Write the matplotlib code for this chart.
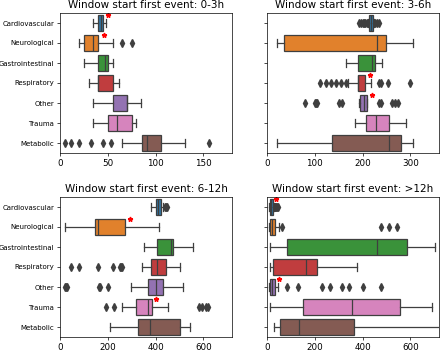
import matplotlib.pyplot as plt

# categorias (de arriba a abajo)
categories = ["Cardiovascular", "Neurological", "Gastrointestinal", "Respiratory",
              "Other", "Trauma", "Metabolic"]
colors = ['#3274a1', '#e1812c', '#3a923a', '#c03d3e', '#9372b2', '#d684bd', '#845b53']
windows = ["0-3h", "3-6h", "6-12h", ">12h"]
xmax = [180, 360, 720, 720]

# ventana 0-3h
lo_0_3 = [35, 20, 25, 30, 35, 35, 65]
q1_0_3 = [40, 25, 40, 40, 55, 50, 86]
med_0_3 = [43, 35, 47, 40, 70, 60, 91]
q3_0_3 = [45, 40, 50, 55, 70, 75, 106]
hi_0_3 = [48, 55, 55, 62, 85, 80, 131]
fl_0_3 = [[], [65, 75], [], [], [], [], [5, 12, 20, 32, 45, 53, 156]]
star_cat_0_3 = [0, 1]
star_x_0_3 = [50, 46]

# ventana 3-6h
lo_3_6 = [212, 20, 165, 170, 193, 185, 20]
q1_3_6 = [214, 35, 190, 190, 194, 207, 137]
med_3_6 = [218, 230, 220, 190, 202, 228, 255]
q3_3_6 = [221, 250, 226, 205, 209, 255, 280]
hi_3_6 = [224, 305, 240, 218, 210, 290, 305]
fl_3_6 = [[193, 197, 200, 203, 206, 209, 227, 230, 234], [], [],
          [110, 123, 134, 144, 155, 165, 235, 239, 254, 300],
          [79, 101, 103, 105, 150, 156, 235, 238, 262, 268, 274], [], []]
star_cat_3_6 = [3, 4]
star_x_3_6 = [215, 219]

# ventana 6-12h
lo_6_12 = [380, 20, 350, 345, 296, 258, 209]
q1_6_12 = [400, 145, 405, 380, 368, 320, 328]
med_6_12 = [410, 160, 466, 405, 401, 367, 377]
q3_6_12 = [422, 271, 471, 445, 433, 384, 501]
hi_6_12 = [432, 414, 555, 504, 515, 452, 546]
fl_6_12 = [[438, 443, 448], [], [], [44, 80, 161, 220, 250, 255, 260],
           [22, 26, 30, 162, 166, 199], [193, 227, 582, 595, 610, 618], []]
star_cat_6_12 = [1, 5]
star_x_6_12 = [294, 402]

# ventana >12h
lo_12 = [8, 10, 14, 14, 10, 14, 30]
q1_12 = [13, 14, 83, 24, 12, 150, 54]
med_12 = [18, 20, 460, 162, 20, 357, 134]
q3_12 = [25, 35, 584, 208, 32, 556, 365]
hi_12 = [28, 50, 705, 378, 47, 692, 800]
fl_12 = [[32, 35, 38, 41, 44], [64, 478, 511, 544], [], [],
         [85, 130, 230, 265, 315, 342, 402, 477], [], []]
star_cat_12 = [0, 4]
star_x_12 = [38, 52]

paneles = [
    (lo_0_3, q1_0_3, med_0_3, q3_0_3, hi_0_3, fl_0_3, star_cat_0_3, star_x_0_3),
    (lo_3_6, q1_3_6, med_3_6, q3_3_6, hi_3_6, fl_3_6, star_cat_3_6, star_x_3_6),
    (lo_6_12, q1_6_12, med_6_12, q3_6_12, hi_6_12, fl_6_12, star_cat_6_12, star_x_6_12),
    (lo_12, q1_12, med_12, q3_12, hi_12, fl_12, star_cat_12, star_x_12),
]

gris = '#3f3f3f'
lw = 0.9

fig = plt.figure(figsize=(4.4, 3.51), dpi=100)
W, H = 440, 351
cajas = [(60, 13), (267, 13), (60, 197), (267, 197)]

for k, (pan, ventana) in enumerate(zip(paneles, windows)):
    lo, q1, med, q3, hi, fl, scat, sx = pan
    x0, y0 = cajas[k]
    ax = fig.add_axes([x0 / W, 1 - (y0 + 140) / H, 172 / W, 140 / H])

    stats = []
    for i in range(len(categories)):
        stats.append(dict(whislo=lo[i], q1=q1[i], med=med[i], q3=q3[i],
                          whishi=hi[i], fliers=fl[i]))

    bp = ax.bxp(stats, positions=range(len(categories)), widths=0.8,
                orientation='horizontal', patch_artist=True,
                boxprops=dict(edgecolor=gris, linewidth=lw),
                medianprops=dict(color=gris, linewidth=lw),
                whiskerprops=dict(color=gris, linewidth=lw),
                capprops=dict(color=gris, linewidth=lw),
                flierprops=dict(marker='d', markerfacecolor=gris,
                                markeredgecolor=gris, markersize=3.8))
    for caja, c in zip(bp['boxes'], colors):
        caja.set_facecolor(c)

    # asteriscos rojos
    ax.plot(sx, [c - 0.4 for c in scat], linestyle='none', marker='*',
            color='red', markersize=3.5)

    ax.set_xlim(0, xmax[k])
    ax.set_ylim(6.5, -0.5)
    ax.set_yticks(range(len(categories)))
    if k % 2 == 0:
        ax.set_yticklabels(categories)
    else:
        ax.set_yticklabels([])
    ax.tick_params(axis='both', length=2.2, width=0.5, pad=2)
    ax.tick_params(axis='x', labelsize=6.3)
    ax.tick_params(axis='y', labelsize=5)
    for s in ax.spines.values():
        s.set_linewidth(0.5)
    ax.set_title("Window start first event: " + ventana, fontsize=7.5, pad=3.5)

fig.savefig("out.png", dpi=100)
